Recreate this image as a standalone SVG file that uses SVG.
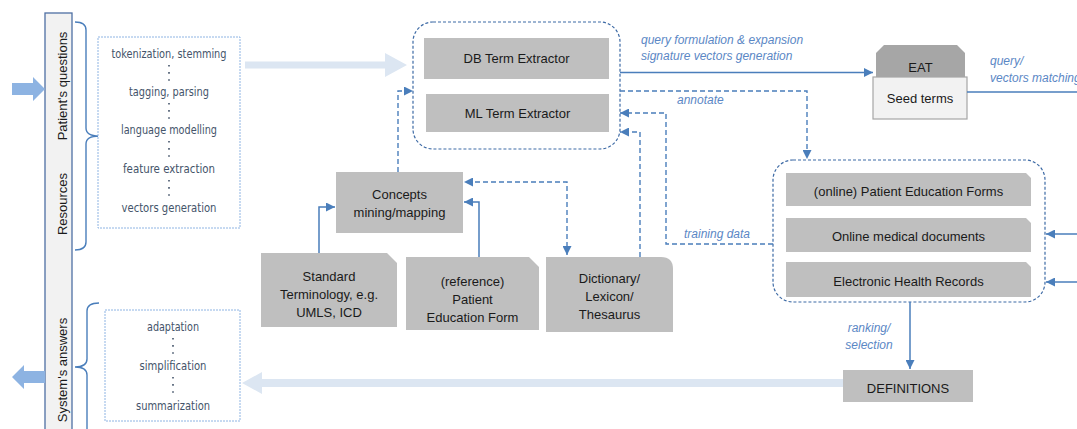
<svg xmlns="http://www.w3.org/2000/svg" width="1077" height="429" viewBox="0 0 1077 429">
<style>
.node{fill:#bfbfbf}
.t{font-family:'Liberation Sans',Arial,sans-serif;font-size:13px;fill:#1a1a1a;text-anchor:middle}
.lbl{font-family:'Liberation Sans',Arial,sans-serif;font-size:12px;font-style:italic;fill:#5b87c5}
.step{font-family:'Liberation Sans Narrow','DejaVu Sans Condensed','DejaVu Sans',sans-serif;font-size:13px;fill:#44546a;text-anchor:middle}
.side{font-family:'Liberation Sans',Arial,sans-serif;font-size:13px;fill:#1a1a1a;text-anchor:middle}
.solid{fill:none;stroke:#4a7ebb;stroke-width:1.5}
.dash{fill:none;stroke:#4a7ebb;stroke-width:1.4;stroke-dasharray:5 3}
.cont{fill:none;stroke:#3d6aa5;stroke-width:1.2;stroke-dasharray:3 2}
.lbox{fill:#fff;stroke:#8eb4e3;stroke-width:1;stroke-dasharray:2 1}
.brace{fill:none;stroke:#4a7ebb;stroke-width:1.4}
.dots{fill:none;stroke:#44546a;stroke-width:1.6;stroke-dasharray:1.6 5.5}
</style>
<defs>
<marker id="ah" markerUnits="userSpaceOnUse" markerWidth="10" markerHeight="9" refX="9" refY="4.5" orient="auto-start-reverse">
<path d="M0,0 L9,4.5 L0,9 z" fill="#4a7ebb"/>
</marker>
</defs>

<!-- left side bar -->
<g id="sidebar">
<rect x="45" y="13" width="27" height="430" fill="#f2f2f2" stroke="#4e6fa3" stroke-width="1.3"/>
<text class="side" transform="translate(67,86) rotate(-90)">Patient's questions</text>
<text class="side" transform="translate(67,204) rotate(-90)">Resources</text>
<text class="side" transform="translate(67,370) rotate(-90)">System's answers</text>
</g>

<!-- big in/out arrows -->
<g id="io-arrows">
<polygon points="12,83 33,83 33,77 45,89 33,101 33,95 12,95" fill="#8db3e2"/>
<polygon points="12,377 24,365 24,371 45,371 45,383 24,383 24,389" fill="#8db3e2"/>
<polygon points="245,61.5 385,61.5 385,53 407,65 385,77 385,68.5 245,68.5" fill="#dce6f2"/>
<polygon points="843,379 262,379 262,372 242,383 262,394 262,387 843,387" fill="#dce6f2"/>
</g>

<!-- braces -->
<g id="braces">
<path class="brace" d="M75,22 Q86,22 86,30 L86,128 Q86,136 99,136 Q86,136 86,144 L86,242 Q86,250 75,250"/>
<path class="brace" d="M99,303 Q87,303 87,311 L87,359 Q87,367 75,367 Q87,367 87,375 L87,432"/>
</g>

<!-- processing steps -->
<g id="nlp-steps">
<rect class="lbox" x="98" y="37" width="142" height="191"/>
<text class="step" x="169" y="58" textLength="115" lengthAdjust="spacingAndGlyphs">tokenization, stemming</text>
<line class="dots" x1="169" y1="65" x2="169" y2="82"/>
<text class="step" x="169" y="96" textLength="80" lengthAdjust="spacingAndGlyphs">tagging, parsing</text>
<line class="dots" x1="169" y1="103" x2="169" y2="120"/>
<text class="step" x="169" y="134" textLength="96" lengthAdjust="spacingAndGlyphs">language modelling</text>
<line class="dots" x1="169" y1="141" x2="169" y2="158"/>
<text class="step" x="169" y="173" textLength="92" lengthAdjust="spacingAndGlyphs">feature extraction</text>
<line class="dots" x1="169" y1="180" x2="169" y2="197"/>
<text class="step" x="169" y="212" textLength="95" lengthAdjust="spacingAndGlyphs">vectors generation</text>
</g>

<g id="answer-steps">
<rect class="lbox" x="105" y="310" width="135" height="111"/>
<text class="step" x="173" y="331" textLength="52" lengthAdjust="spacingAndGlyphs">adaptation</text>
<line class="dots" x1="173" y1="338" x2="173" y2="355"/>
<text class="step" x="173" y="370" textLength="67" lengthAdjust="spacingAndGlyphs">simplification</text>
<line class="dots" x1="173" y1="377" x2="173" y2="394"/>
<text class="step" x="173" y="410" textLength="74" lengthAdjust="spacingAndGlyphs">summarization</text>
</g>

<!-- term extractor container -->
<g id="extractors">
<rect class="cont" x="413" y="22" width="207" height="127" rx="20" ry="20"/>
<g id="db-term">
<rect class="node" x="424" y="38" width="185" height="41"/>
<text class="t" x="516.5" y="63">DB Term Extractor</text>
</g>
<g id="ml-term">
<rect class="node" x="426" y="94" width="183" height="38"/>
<text class="t" x="517.5" y="118">ML Term Extractor</text>
</g>
</g>

<g id="concepts">
<rect class="node" x="336" y="172" width="127" height="61"/>
<text class="t" x="399.5" y="199">Concepts</text>
<text class="t" x="399.5" y="217">mining/mapping</text>
</g>

<g id="standard-terminology">
<polygon class="node" points="261,253 387,253 397,263 397,327 261,327"/>
<text class="t" x="329" y="281">Standard</text>
<text class="t" x="329" y="299">Terminology, e.g.</text>
<text class="t" x="329" y="317">UMLS, ICD</text>
</g>

<g id="reference-pef">
<polygon class="node" points="406,257 529,257 539,267 539,330 406,330"/>
<text class="t" x="472.5" y="286">(reference)</text>
<text class="t" x="472.5" y="304">Patient</text>
<text class="t" x="472.5" y="322">Education Form</text>
</g>

<g id="dictionary">
<path class="node" d="M546,257 H661 Q673,257 673,269 V332 H546 Z"/>
<text class="t" x="609.5" y="283">Dictionary/</text>
<text class="t" x="609.5" y="301">Lexicon/</text>
<text class="t" x="609.5" y="319">Thesaurus</text>
</g>

<g id="eat">
<polygon points="884,45 957,45 965,53 965,77 876,77 876,53" fill="#a6a6a6"/>
<text class="t" x="920.5" y="72">EAT</text>
<rect x="873" y="77" width="94" height="42" fill="#f2f2f2" stroke="#a6a6a6" stroke-width="1.2"/>
<text class="t" x="920" y="103">Seed terms</text>
</g>

<g id="documents">
<rect class="cont" x="773" y="160" width="272" height="142" rx="20" ry="20"/>
<g id="pef-online">
<polygon class="node" points="786,173 1026,173 1031,178 1031,206 786,206"/>
<text class="t" x="908.5" y="196">(online) Patient Education Forms</text>
</g>
<g id="online-docs">
<polygon class="node" points="786,218 1026,218 1031,223 1031,252 786,252"/>
<text class="t" x="908.5" y="241">Online medical documents</text>
</g>
<g id="ehr">
<polygon class="node" points="786,262 1026,262 1031,267 1031,297 786,297"/>
<text class="t" x="908.5" y="286">Electronic Health Records</text>
</g>
</g>

<g id="definitions">
<rect class="node" x="843" y="370" width="130" height="32"/>
<text class="t" x="908" y="393">DEFINITIONS</text>
</g>

<!-- connectors -->
<g id="connectors">
<path class="solid" d="M319,253 V207 H335" marker-end="url(#ah)"/>
<path class="solid" d="M479,257 V202 H464" marker-end="url(#ah)"/>
<path class="dash" d="M567,255 V182 H464" marker-start="url(#ah)" marker-end="url(#ah)"/>
<path class="dash" d="M398,172 V91 H413" marker-end="url(#ah)"/>
<path class="dash" d="M640,257 V132 H620" marker-end="url(#ah)"/>
<path class="dash" d="M773,244 H666 V113 H620" marker-end="url(#ah)"/>
<path class="dash" d="M620,91 H807 V159" marker-end="url(#ah)"/>
<path class="solid" d="M620,72.5 H873" marker-end="url(#ah)"/>
<path class="solid" d="M967,92 H1077"/>
<path class="solid" d="M1077,234 H1046" marker-end="url(#ah)"/>
<path class="solid" d="M1077,282 H1046" marker-end="url(#ah)"/>
<path class="solid" d="M910,302 V369" marker-end="url(#ah)"/>
<text class="lbl" x="641" y="44">query formulation &amp; expansion</text>
<text class="lbl" x="641" y="60">signature vectors generation</text>
<text class="lbl" x="677" y="104">annotate</text>
<text class="lbl" x="990" y="65">query/</text>
<text class="lbl" x="990" y="82">vectors matching</text>
<text class="lbl" x="684" y="238">training data</text>
<text class="lbl" x="869" y="332" text-anchor="middle">ranking/</text>
<text class="lbl" x="869" y="349" text-anchor="middle">selection</text>
</g>
</svg>
